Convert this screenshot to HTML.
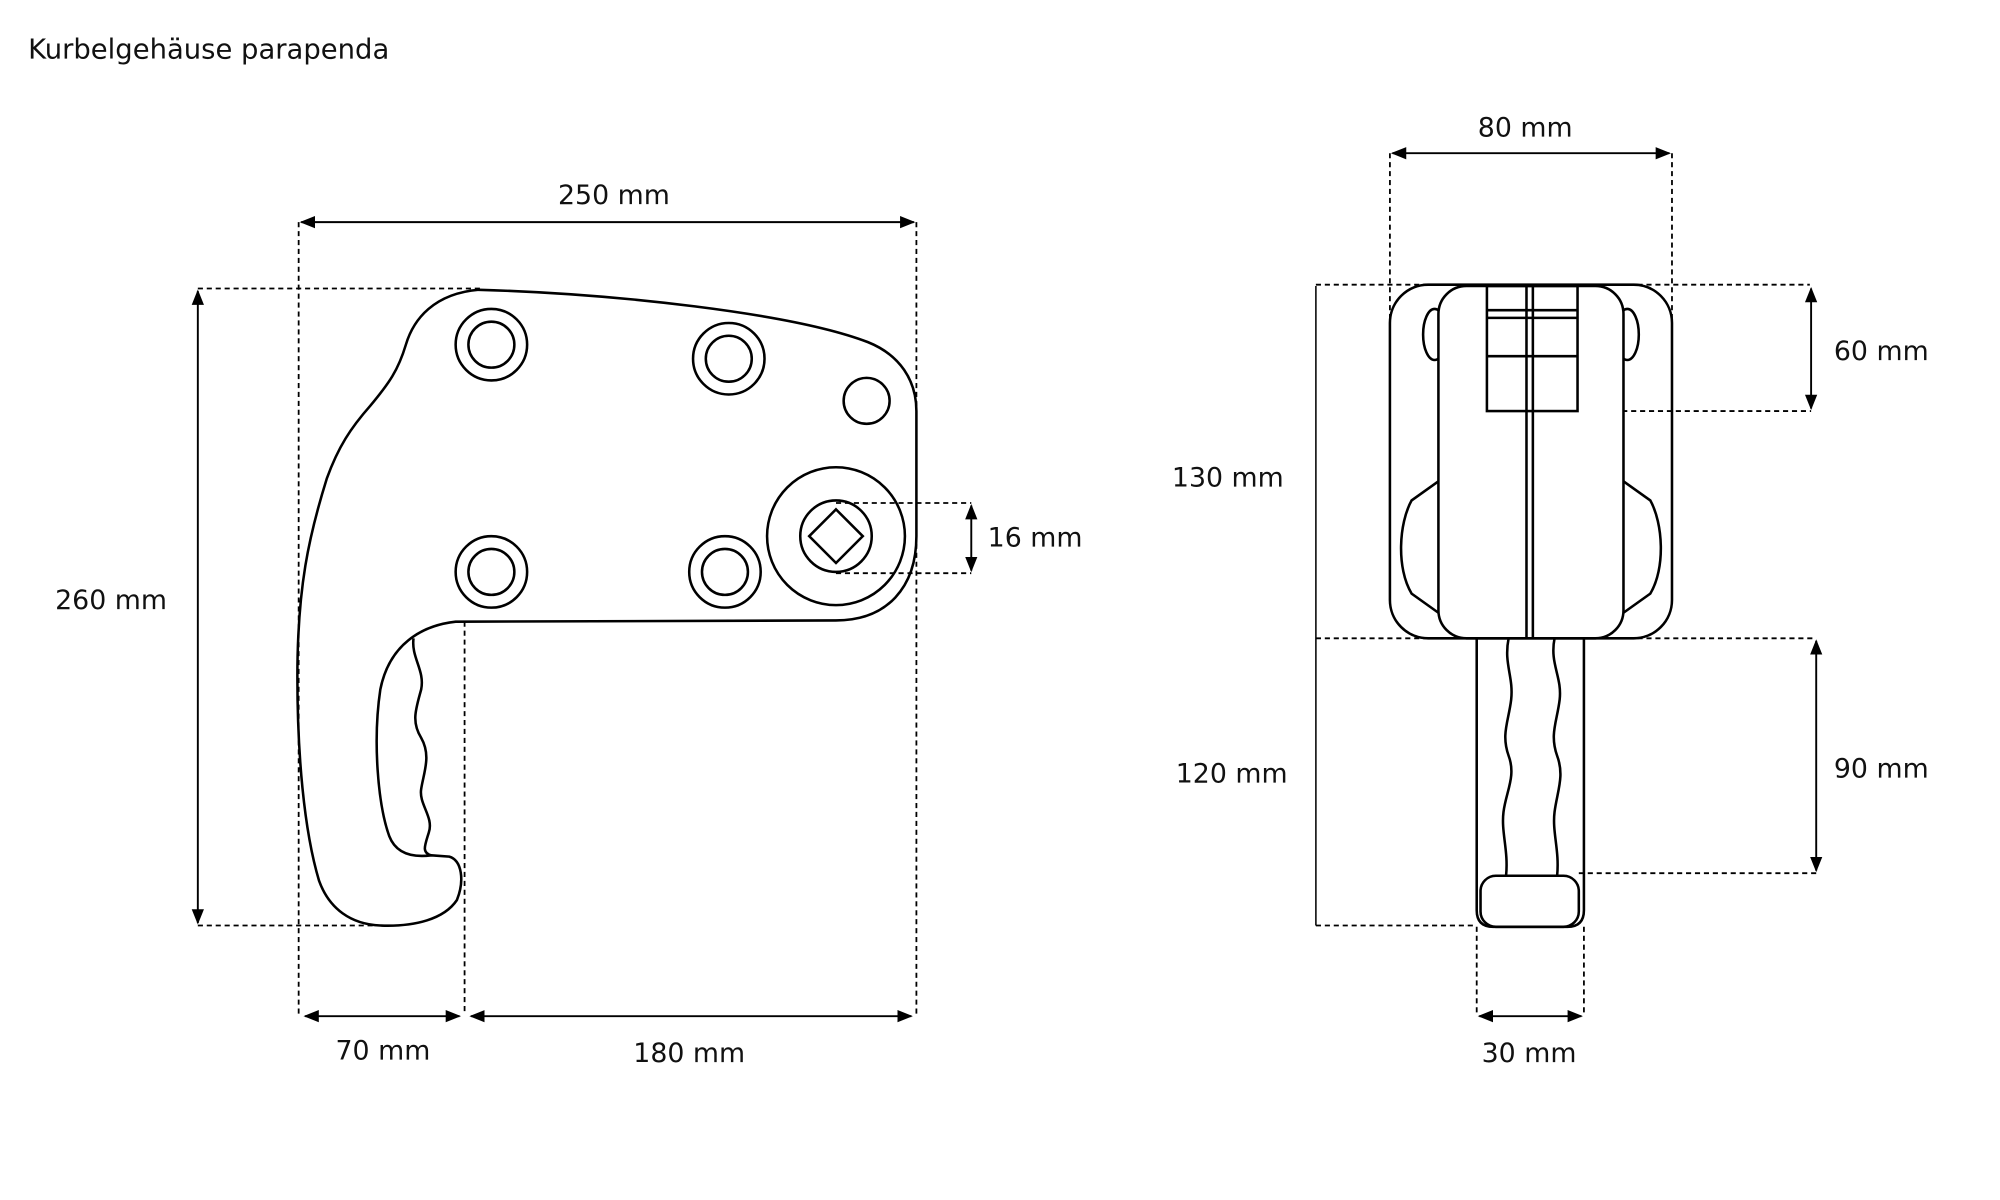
<!DOCTYPE html>
<html><head><meta charset="utf-8"><style>
html,body{margin:0;padding:0;background:#fff;}
svg{display:block}
text{font-family:"DejaVu Sans","Liberation Sans",sans-serif;font-size:21px;fill:#111}
</style></head><body>
<svg width="2000" height="1200" viewBox="0 0 1567 940" preserveAspectRatio="none" xmlns="http://www.w3.org/2000/svg">
<defs>
<marker id="a" viewBox="0 0 10 10" refX="9" refY="5" markerWidth="8" markerHeight="8" orient="auto-start-reverse"><path d="M0,1 L10,5 L0,9 z" fill="#000"/></marker>
</defs>
<text x="22" y="46" style="font-size:21.5px">Kurbelgehäuse parapenda</text>
<g fill="none" stroke="#000" stroke-width="1.4" stroke-dasharray="4,3">
<line x1="234" y1="174" x2="234" y2="795"/><line x1="718" y1="174" x2="718" y2="795"/>
<line x1="155" y1="226" x2="378" y2="226"/><line x1="155" y1="725" x2="300" y2="725"/>
<line x1="364" y1="487" x2="364" y2="795"/>
<line x1="655" y1="394" x2="761" y2="394"/><line x1="655" y1="449" x2="761" y2="449"/>
<line x1="1089" y1="120" x2="1089" y2="260"/><line x1="1310" y1="120" x2="1310" y2="260"/>
<line x1="1031" y1="223" x2="1418" y2="223"/><line x1="1031" y1="500" x2="1422" y2="500"/>
<line x1="1031" y1="725" x2="1157" y2="725"/>
<line x1="1236" y1="322" x2="1419" y2="322"/><line x1="1237" y1="684" x2="1423" y2="684"/>
<line x1="1157" y1="726" x2="1157" y2="796"/><line x1="1241" y1="726" x2="1241" y2="796"/>
</g>
<g stroke="#000" stroke-width="1.5" marker-start="url(#a)" marker-end="url(#a)">
<line x1="236" y1="174" x2="716" y2="174"/>
<line x1="155" y1="228" x2="155" y2="723"/>
<line x1="239" y1="796" x2="360" y2="796"/>
<line x1="369" y1="796" x2="714" y2="796"/>
<line x1="761" y1="396" x2="761" y2="447"/>
<line x1="1091" y1="120" x2="1308" y2="120"/>
<line x1="1419" y1="226" x2="1419" y2="320"/>
<line x1="1423" y1="502" x2="1423" y2="682"/>
<line x1="1159" y1="796" x2="1239" y2="796"/>
</g>
<g stroke="#000" stroke-width="1.2"><line x1="1031" y1="224" x2="1031" y2="725"/></g>
<g text-anchor="middle">
<text x="481" y="160">250 mm</text>
<text x="87" y="477">260 mm</text>
<text x="300" y="830">70 mm</text>
<text x="540" y="832">180 mm</text>
<text x="811" y="428">16 mm</text>
<text x="1195" y="107">80 mm</text>
<text x="962" y="381">130 mm</text>
<text x="965" y="613">120 mm</text>
<text x="1474" y="282">60 mm</text>
<text x="1474" y="609">90 mm</text>
<text x="1198" y="832">30 mm</text>
</g>
<g fill="none" stroke="#000" stroke-width="2">
<path d="M375,227 C480,230 620,245 680,268 C705,278 718,298 718,322 L718,420 C718,460 695,486 655,486 L357,487 C330,490 305,505 298,540 C292,580 296,630 305,655 C310,668 322,672 338,670 L352,671 C362,674 364,690 358,705 C348,720 325,726 298,725 C275,724 258,712 250,690 C238,650 233,590 233,530 C233,460 242,420 256,375 C265,350 275,335 290,318 C305,300 312,290 318,270 C324,250 340,230 375,227 Z"/>
<path d="M324,500 C322,515 333,525 330,540 C326,555 322,565 330,578 C338,592 332,605 330,618 C328,630 340,640 336,652 C333,662 330,668 338,670"/>
<circle cx="385" cy="270" r="28"/><circle cx="385" cy="270" r="18"/>
<circle cx="571" cy="281" r="28"/><circle cx="571" cy="281" r="18"/>
<circle cx="385" cy="448" r="28"/><circle cx="385" cy="448" r="18"/>
<circle cx="568" cy="448" r="28"/><circle cx="568" cy="448" r="18"/>
<circle cx="679" cy="314" r="18"/>
<circle cx="655" cy="420" r="54"/><circle cx="655" cy="420" r="28"/>
<path d="M655,399 L676,420 L655,441 L634,420 Z"/>
<rect x="1089" y="223" width="221" height="277" rx="30"/>
<ellipse cx="1124" cy="262" rx="9" ry="20"/><ellipse cx="1275" cy="262" rx="9" ry="20"/>
<path d="M1127,377 L1106,392 C1096,410 1094,445 1106,465 L1127,480"/>
<path d="M1272,377 L1293,392 C1303,410 1305,445 1293,465 L1272,480"/>
<rect x="1127" y="224" width="145" height="276" rx="22" fill="#fff"/>
<rect x="1165" y="224" width="71" height="98"/>
<line x1="1165" y1="243" x2="1236" y2="243"/><line x1="1165" y1="249" x2="1236" y2="249"/>
<line x1="1165" y1="279" x2="1236" y2="279"/>
<line x1="1196" y1="224" x2="1196" y2="500"/><line x1="1201" y1="224" x2="1201" y2="500"/>
<path d="M1157,500 L1157,713 Q1157,726 1170,726 L1228,726 Q1241,726 1241,713 L1241,500"/>
<rect x="1160" y="686" width="77" height="40" rx="12"/>
<path d="M1182,500 C1178,520 1186,530 1184,548 C1182,565 1176,575 1182,592 C1188,608 1180,620 1178,636 C1176,652 1182,666 1180,686"/>
<path d="M1218,500 C1214,520 1224,530 1222,548 C1220,565 1214,575 1220,592 C1226,608 1220,620 1218,636 C1216,652 1222,666 1220,686"/>
</g>
</svg>
</body></html>
